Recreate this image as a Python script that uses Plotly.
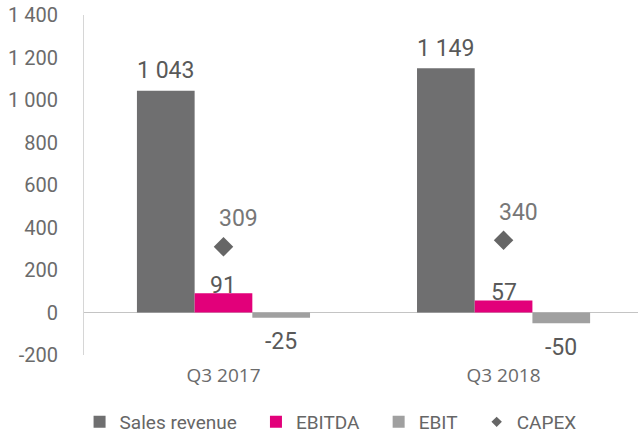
import plotly.graph_objects as go

categories = ["Q3 2017", "Q3 2018"]
sales_revenue = [1043, 1149]
ebitda = [91, 57]
ebit = [-25, -50]
capex = [309, 340]
y_ticks = [-200, 0, 200, 400, 600, 800, 1000, 1200, 1400]

xpos = list(range(len(categories)))

def fmt(v):
    return f"{v:,}".replace(",", " ")

PAD = "\u00a0" * 3

fig = go.Figure()
fig.add_trace(go.Bar(name="Sales revenue" + PAD, x=xpos, y=sales_revenue,
                     marker=dict(color="#6f6f70", line=dict(width=0))))
fig.add_trace(go.Bar(name="EBITDA" + PAD, x=xpos, y=ebitda,
                     marker=dict(color="#e2007a", line=dict(width=0))))
fig.add_trace(go.Bar(name="EBIT" + PAD, x=xpos, y=ebit,
                     marker=dict(color="#a0a0a0", line=dict(width=0))))
fig.add_trace(go.Scatter(name="CAPEX", x=xpos, y=capex, mode="markers",
                         marker=dict(symbol="diamond", size=15, color="#666666"),
                         showlegend=False))
fig.add_trace(go.Scatter(name="CAPEX", x=[None], y=[None], mode="markers",
                         marker=dict(symbol="diamond", size=8, color="#666666"),
                         showlegend=True))

bar_w = (1 - 0.382) / 3
label_font = dict(family="Roboto", size=23, color="#595959")
ann = []
for i in xpos:
    ann.append(dict(x=i - bar_w, y=sales_revenue[i], text=fmt(sales_revenue[i]),
                    showarrow=False, yanchor="middle", yshift=20, font=label_font))
    ann.append(dict(x=i, y=ebitda[i], text=fmt(ebitda[i]),
                    showarrow=False, yanchor="middle", yshift=8, font=label_font))
    ann.append(dict(x=i + bar_w, y=ebit[i], text=fmt(ebit[i]),
                    showarrow=False, yanchor="middle", yshift=-24, font=label_font))
    ann.append(dict(x=i, y=capex[i], text=fmt(capex[i]),
                    showarrow=False, yanchor="middle", yshift=28, xshift=15,
                    font=dict(family="Roboto", size=23, color="#777777")))

fig.update_layout(
    width=639, height=436,
    margin=dict(l=84, r=1, t=15, b=81, autoexpand=False),
    paper_bgcolor="white", plot_bgcolor="white",
    barmode="group", bargap=0.382, bargroupgap=0,
    annotations=ann,
    showlegend=True,
    legend=dict(orientation="h", x=-0.008, xanchor="left", y=-0.197, yanchor="middle",
                font=dict(family="Roboto", size=19, color="#666666"),
                traceorder="normal", itemclick=False),
    xaxis=dict(tickmode="array", tickvals=xpos, ticktext=categories, automargin=False,
               range=[-0.498, 1.48], showgrid=False, zeroline=False, showline=False,
               ticks="", ticklabelstandoff=7,
               tickfont=dict(family="Open Sans", size=19, color="#6b6b6b")),
    yaxis=dict(range=[-200, 1400], tickmode="array", tickvals=y_ticks, automargin=False,
               ticktext=[fmt(v) for v in y_ticks],
               showgrid=False, zeroline=True, zerolinecolor="#c4c4c4", zerolinewidth=1,
               showline=True, linecolor="#d6d6d6", linewidth=1,
               ticks="", ticklabelstandoff=21,
               tickfont=dict(family="Roboto", size=20, color="#6b6b6b")),
)

fig.write_html("out.html", config={"displayModeBar": False},
               post_script="document.body.style.margin='0';document.body.style.overflow='hidden';")
